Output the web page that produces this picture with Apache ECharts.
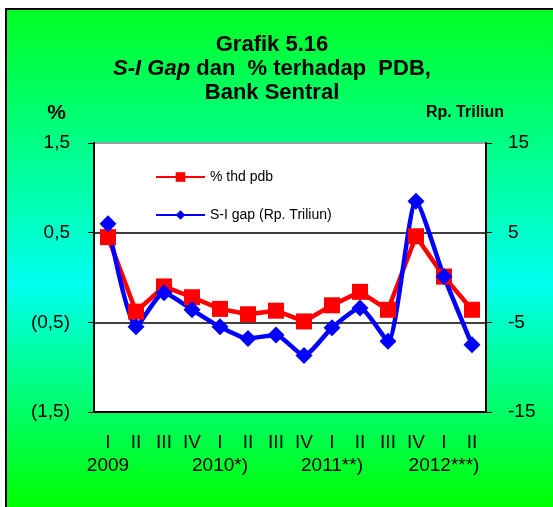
<!DOCTYPE html>
<html>
<head>
<meta charset="utf-8">
<script src="https://cdn.jsdelivr.net/npm/echarts@6/dist/echarts.min.js"></script>
<style>
  html, body { margin: 0; padding: 0; background: #fff; }
  #chart { width: 553px; height: 507px; }
</style>
</head>
<body>
<div id="chart"></div>
<script>
// kuartal & tahun
var quarters = ["I", "II", "III", "IV", "I", "II", "III", "IV", "I", "II", "III", "IV", "I", "II"];
var years = ["2009", "", "", "", "2010*)", "", "", "", "2011**)", "", "", "", "2012***)", ""];
// % thd pdb (sumbu kiri)
var pctPdb = [0.45, -0.38, -0.1, -0.22, -0.35, -0.41, -0.37, -0.49, -0.31, -0.16, -0.36, 0.46, 0.01, -0.36];
// S-I gap, Rp. Triliun (sumbu kanan)
var siGap = [6.0, -5.5, -1.7, -3.6, -5.5, -6.8, -6.4, -8.7, -5.6, -3.4, -7.1, 8.5, 0.1, -7.5];

var font = "Liberation Sans, Arial, sans-serif";
var myChart = echarts.init(document.getElementById("chart"));

myChart.setOption({
  animation: false,
  backgroundColor: {
    type: "linear", x: 0, y: 0, x2: 0, y2: 1,
    colorStops: [
      { offset: 0, color: "#00ff1c" },
      { offset: 0.56, color: "#00fff0" },
      { offset: 1, color: "#00ff00" }
    ]
  },
  textStyle: { fontFamily: font },
  graphic: [
    // white margin + black frame (kiri & atas)
    { type: "rect", shape: { x: 0, y: 0, width: 553, height: 8 }, style: { fill: "#fff" }, silent: true },
    { type: "rect", shape: { x: 0, y: 0, width: 5, height: 507 }, style: { fill: "#fff" }, silent: true },
    { type: "polyline", shape: { points: [[6, 507], [6, 9], [553, 9]] }, style: { stroke: "#000", lineWidth: 2, fill: null }, silent: true }
  ],
  title: {
    text: "Grafik 5.16\n{i|S-I Gap} dan  % terhadap  PDB,\nBank Sentral",
    left: 267,
    top: 28,
    textAlign: "center",
    textStyle: {
      fontFamily: font,
      fontSize: 22,
      fontWeight: "bold",
      color: "#000",
      lineHeight: 24,
      rich: {
        i: { fontFamily: font, fontSize: 22, fontWeight: "bold", fontStyle: "italic", color: "#000", lineHeight: 24 }
      }
    }
  },
  legend: {
    orient: "vertical",
    left: 155,
    top: 170,
    padding: 0,
    itemWidth: 49,
    itemHeight: 12,
    itemGap: 24,
    lineStyle: { width: 2 },
    textStyle: { fontFamily: font, fontSize: 14, color: "#000" },
    data: ["% thd pdb", "S-I gap (Rp. Triliun)"]
  },
  grid: {
    left: 94,
    right: 67,
    top: 143,
    bottom: 95,
    show: true,
    backgroundColor: "#fff",
    borderColor: "#999",
    borderWidth: 1
  },
  xAxis: {
    type: "category",
    data: quarters,
    boundaryGap: true,
    axisLine: { onZero: false, lineStyle: { color: "#000", width: 2 } },
    axisTick: { alignWithLabel: true, length: 4, lineStyle: { color: "#000" } },
    axisLabel: {
      interval: 0,
      margin: 19,
      fontFamily: font,
      fontSize: 19,
      color: "#000",
      lineHeight: 23,
      formatter: function (v, i) {
        return years[i] ? v + "\n" + years[i] : v;
      }
    }
  },
  yAxis: [
    {
      type: "value",
      min: -1.5,
      max: 1.5,
      interval: 1,
      name: "%",
      nameGap: 19,
      nameTextStyle: { fontFamily: font, fontSize: 21, fontWeight: "bold", color: "#000", align: "right", padding: [0, 28, 0, 0] },
      axisLine: { show: true, lineStyle: { color: "#000", width: 2 } },
      axisTick: { show: true, length: 6, lineStyle: { color: "#000" } },
      axisLabel: {
        margin: 24,
        fontFamily: font,
        fontSize: 19,
        color: "#000",
        formatter: function (v) {
          var s = Math.abs(v).toFixed(1).replace(".", ",");
          return v < 0 ? "(" + s + ")" : s;
        }
      },
      splitLine: { show: true, lineStyle: { color: ["#000", "#000", "#000", "#999"], width: 1.5 } }
    },
    {
      type: "value",
      min: -15,
      max: 15,
      interval: 10,
      name: "Rp. Triliun",
      nameGap: 22,
      nameTextStyle: { fontFamily: font, fontSize: 16, fontWeight: "bold", color: "#000", padding: [0, 42, 0, 0] },
      axisLine: { show: true, lineStyle: { color: "#000", width: 2 } },
      axisTick: { show: true, length: 6, lineStyle: { color: "#000" } },
      axisLabel: { margin: 22, fontFamily: font, fontSize: 19, color: "#000" },
      splitLine: { show: false }
    }
  ],
  series: [
    {
      name: "% thd pdb",
      type: "line",
      yAxisIndex: 0,
      data: pctPdb,
      symbol: "rect",
      symbolSize: 16,
      lineStyle: { color: "#ff0000", width: 4.5 },
      itemStyle: { color: "#ff0000" }
    },
    {
      name: "S-I gap (Rp. Triliun)",
      type: "line",
      yAxisIndex: 1,
      data: siGap,
      smooth: 0.2,
      symbol: "diamond",
      symbolSize: 17,
      lineStyle: { color: "#0000ff", width: 4.5 },
      itemStyle: { color: "#0000ff" }
    }
  ]
});
</script>
</body>
</html>
